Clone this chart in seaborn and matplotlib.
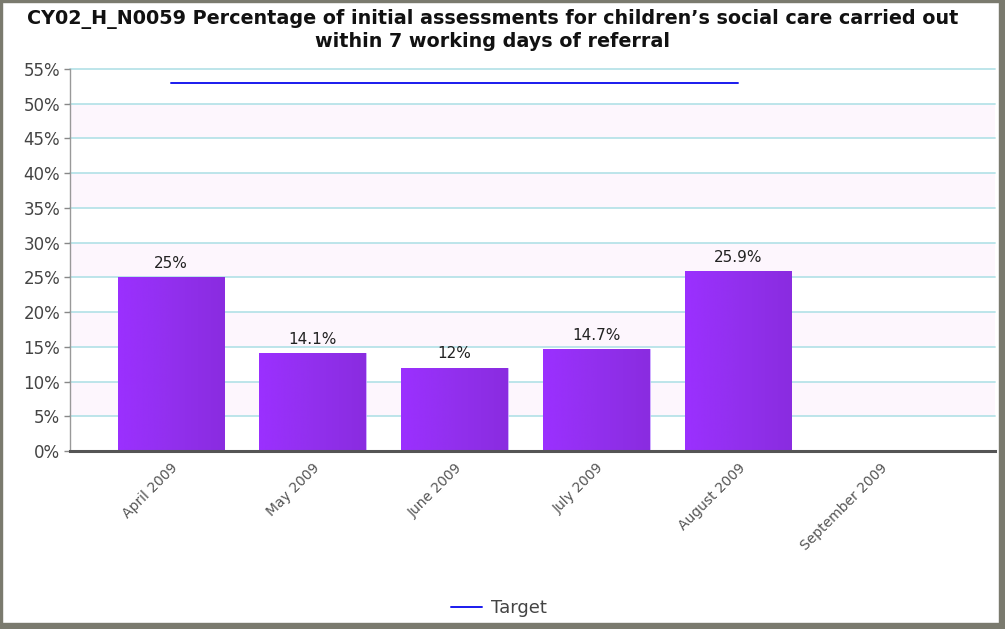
import numpy as np
import pandas as pd
import matplotlib
matplotlib.use("Agg")
import matplotlib.pyplot as plt
import seaborn as sns
from matplotlib.colors import LinearSegmentedColormap
from matplotlib.patches import Rectangle

months = ["April 2009", "May 2009", "June 2009", "July 2009", "August 2009", "September 2009"]
values = [25.0, 14.1, 12.0, 14.7, 25.9, np.nan]
labels = ["25%", "14.1%", "12%", "14.7%", "25.9%", ""]
target_months = ["April 2009", "May 2009", "June 2009", "July 2009", "August 2009"]
target_values = [53, 53, 53, 53, 53]
yticks = [0, 5, 10, 15, 20, 25, 30, 35, 40, 45, 50, 55]

df = pd.DataFrame({"month": months, "value": values})

sns.set_style("white")
fig = plt.figure(figsize=(10.05, 6.29), dpi=100)
ax = fig.add_axes([70/1005, 1 - 451/629, 925/1005, (451-69)/629])

sns.barplot(data=df, x="month", y="value", order=months, color="#9130f0",
            width=0.75, ax=ax, zorder=2, saturation=1)
bars = list(ax.containers[0])

# alternating background bands
for i, lo in enumerate(yticks[:-1]):
    if i % 2 == 1:
        ax.axhspan(lo, lo + 5, color="#fdf6fd", zorder=0, lw=0)
for y in yticks[1:]:
    ax.axhline(y, color="#b7e3e8", lw=1.3, zorder=0.5, clip_on=False)

cmap = LinearSegmentedColormap.from_list("g", ["#9b30ff", "#9230ee", "#8a2ce0"])
grad = np.linspace(0, 1, 256).reshape(1, -1)
for p in bars:
    x0, y0 = p.get_x(), p.get_y()
    w, h = p.get_width(), p.get_height()
    if not np.isfinite(h) or h == 0:
        continue
    p.set_facecolor("none")
    p.set_edgecolor("#c8a0ff")
    p.set_linewidth(0.6)
    im = ax.imshow(grad, extent=[x0, x0 + w, y0, y0 + h], aspect="auto",
                   cmap=cmap, zorder=2.5, interpolation="bicubic")
    im.set_clip_path(p)

for i, (v, lab) in enumerate(zip(values, labels)):
    if np.isfinite(v):
        ax.text(i, v + 0.9, lab, ha="center", va="bottom", fontsize=11,
                color="#222222", family="DejaVu Sans", zorder=4)

tdf = pd.DataFrame({"month": target_months, "target": target_values})
sns.lineplot(data=tdf, x="month", y="target", color="#1a1aee", lw=1.4,
             ax=ax, zorder=3, label="Target", sort=False)

ax.set_xlim(-0.71, 5.81)
ax.set_ylim(0, 55)
ax.set_yticks(yticks)
ax.set_yticklabels([f"{t}%" for t in yticks], fontsize=12, color="#444444")
ax.set_xticks(range(len(months)))
ax.set_xticklabels(months, rotation=45, ha="right", rotation_mode="anchor",
                   fontsize=10, color="#555555")
ax.set_xlabel("")
ax.set_ylabel("")
ax.tick_params(axis="y", length=4, color="#888888", width=1, pad=3, left=True)
ax.tick_params(axis="x", length=0, pad=7)
for s in ["top", "right"]:
    ax.spines[s].set_visible(False)
ax.spines["left"].set_color("#999999")
ax.spines["left"].set_linewidth(1)
ax.spines["bottom"].set_color("#555555")
ax.spines["bottom"].set_linewidth(2.2)
ax.spines["bottom"].set_zorder(5)

leg = ax.legend(loc="center", bbox_to_anchor=(0.5 - 0.036, -0.412), frameon=False,
                fontsize=13, handlelength=1.7, handletextpad=0.5)
for t in leg.get_texts():
    t.set_color("#444444")

fig.text(0.49, 0.985, "CY02_H_N0059 Percentage of initial assessments for children\u2019s social care carried out\nwithin 7 working days of referral",
         ha="center", va="top", fontsize=13.8, fontweight="bold", color="#111111",
         linespacing=1.15)

# outer frame
fc = "#7a7a6e"
fig.patches.append(Rectangle((0, 1 - 2/629), 1, 2/629, transform=fig.transFigure, color=fc, zorder=10))
fig.patches.append(Rectangle((0, 0), 2/1005, 1, transform=fig.transFigure, color=fc, zorder=10))
fig.patches.append(Rectangle((1 - 6/1005, 0), 6/1005, 1, transform=fig.transFigure, color=fc, zorder=10))
fig.patches.append(Rectangle((0, 0), 1, 6/629, transform=fig.transFigure, color=fc, zorder=10))

fig.savefig("out.png", dpi=100)
